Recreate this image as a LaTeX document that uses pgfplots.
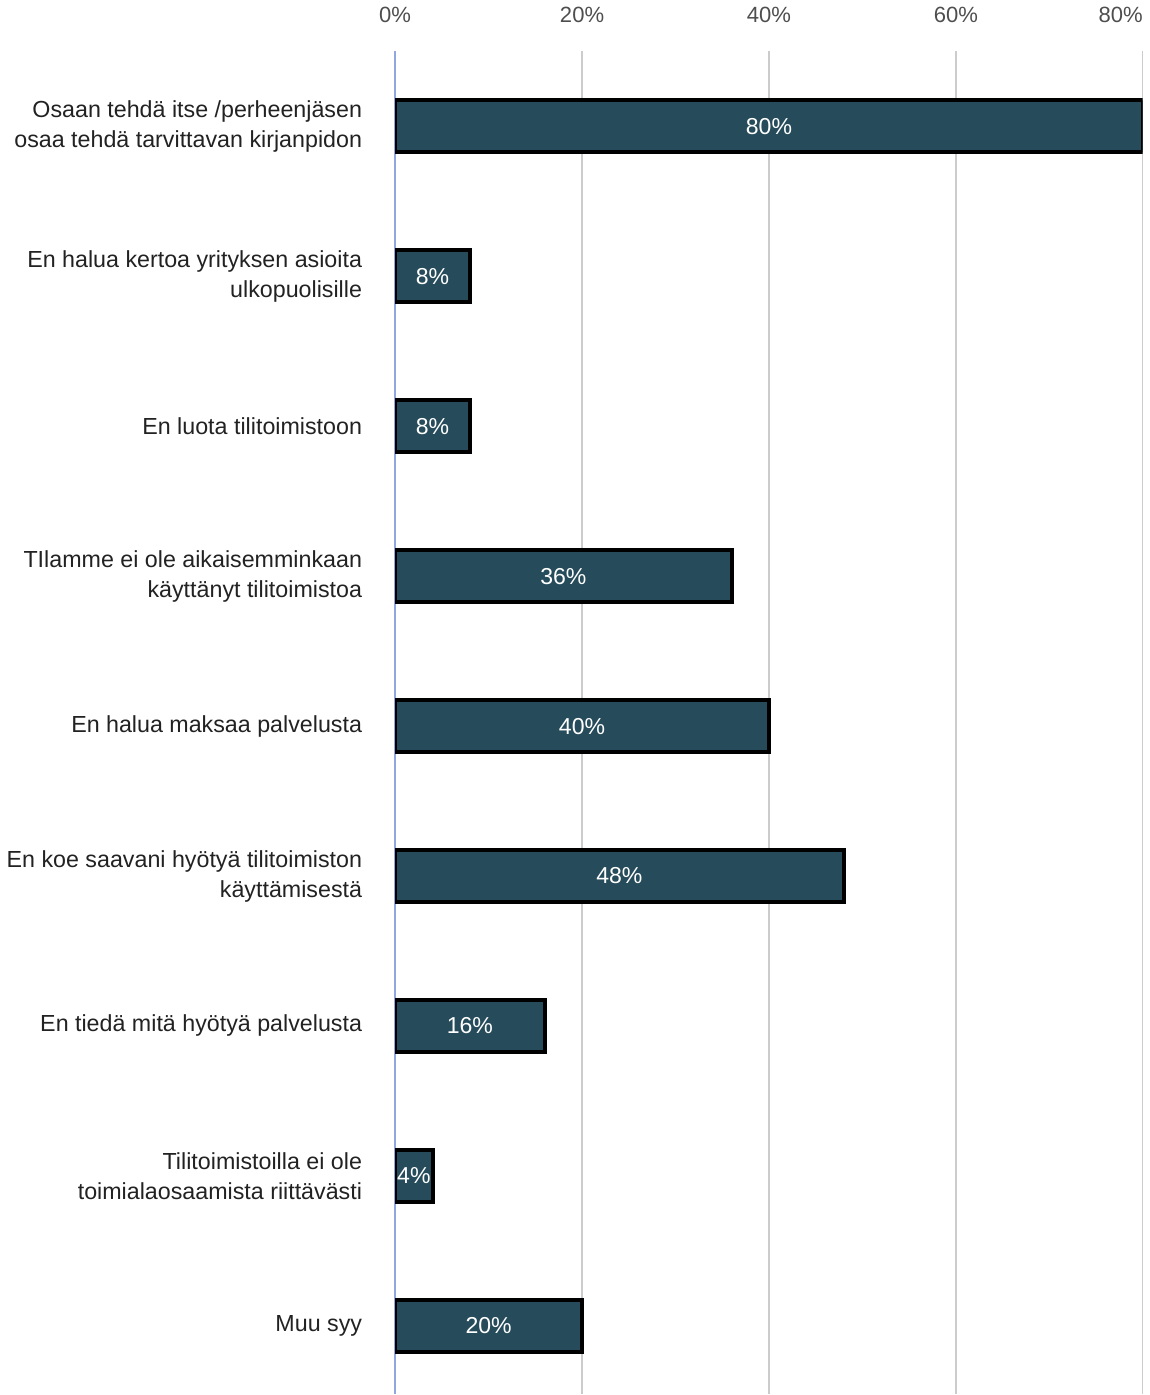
\documentclass[border=0pt]{standalone}
\usepackage{pgfplots}
\pgfplotsset{compat=1.18}
\usepackage{pgfplotstable}
\usepackage{fontspec}
\setmainfont{Liberation Sans}
\definecolor{barfill}{HTML}{264B5A}
\definecolor{gridgray}{HTML}{CCCCCC}
\definecolor{zeroline}{HTML}{8FA8E0}
\definecolor{labelgray}{HTML}{222222}

% share of respondents per reason (%)
\pgfplotstableread[col sep=comma]{
idx,value
0,80
1,8
2,8
3,36
4,40
5,48
6,16
7,4
8,20
}\reasons

\begin{document}
\begin{tikzpicture}
\begin{axis}[
  ,scale only axis
  ,width=373pt
  ,height=670pt
  ,xmin=0, xmax=80
  ,ymin=-0.5, ymax=8.456
  ,y dir=reverse
  ,axis line style={draw=none}
  ,tick style={draw=none}
  ,xtick={20,40,60,80}
  ,xticklabels={20\%,40\%,60\%,\llap{80\%}}
  ,extra x ticks={0}
  ,extra x tick labels={0\%}
  ,extra x tick style={grid=major, major grid style={zeroline, line width=0.8pt}}
  ,xticklabel pos=upper
  ,xticklabel style={font=\fontsize{11}{13}\selectfont, text=labelgray!80, yshift=11pt}
  ,xmajorgrids
  ,major grid style={gridgray, line width=0.7pt}
  ,ytick={0,...,8}
  ,yticklabels={
    {Osaan tehdä itse /perheenjäsen\\osaa tehdä tarvittavan kirjanpidon},
    {En halua kertoa yrityksen asioita\\ulkopuolisille},
    {En luota tilitoimistoon},
    {TIlamme ei ole aikaisemminkaan\\käyttänyt tilitoimistoa},
    {En halua maksaa palvelusta},
    {En koe saavani hyötyä tilitoimiston\\käyttämisestä},
    {En tiedä mitä hyötyä palvelusta},
    {Tilitoimistoilla ei ole\\toimialaosaamista riittävästi},
    {Muu syy}}
  ,yticklabel style={align=right, font=\fontsize{11.6}{15}\selectfont, text=labelgray, xshift=-13pt}
  ]
  \addplot[xbar, bar width=26pt, fill=barfill, draw=black, line width=2pt]
    table[x=value, y=idx] {\reasons};
  \addplot[draw=none, mark=none,
    point meta=explicit,
    nodes near coords={\pgfmathprintnumber[assume math mode=true]{\pgfplotspointmeta}\%},
    every node near coord/.style={anchor=center, text=white, font=\fontsize{11.5}{13}\selectfont}]
    table[x expr=\thisrow{value}/2, y=idx, meta=value] {\reasons};
\end{axis}
\end{tikzpicture}
\end{document}
